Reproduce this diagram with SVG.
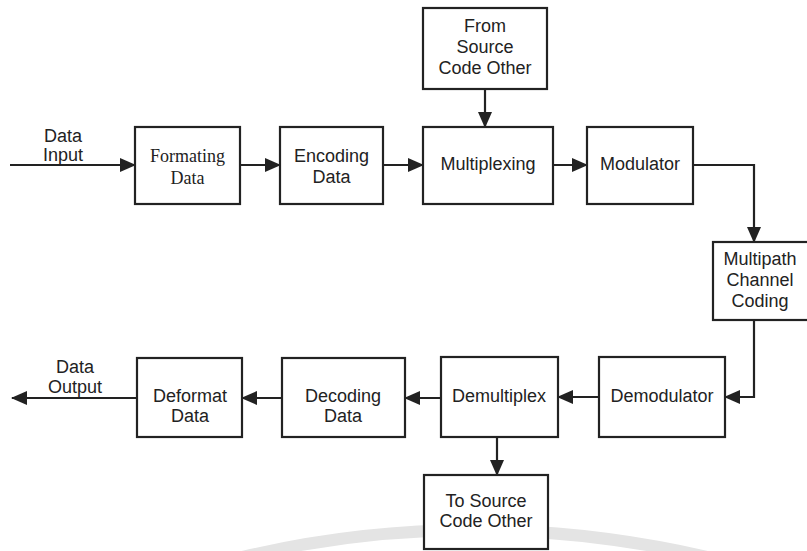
<svg xmlns="http://www.w3.org/2000/svg" width="807" height="551" viewBox="0 0 807 551">
<style>
.box{fill:#fff;stroke:#222;stroke-width:2.2}
.t{font-family:"Liberation Sans",Arial,sans-serif;font-size:18px;fill:#222;text-anchor:middle}
.s{font-family:"Liberation Serif","Times New Roman",serif;font-size:18px;fill:#222;text-anchor:middle}
.c{fill:none;stroke:#222;stroke-width:2.2;marker-end:url(#ah)}
</style>
<defs>
<marker id="ah" markerUnits="userSpaceOnUse" markerWidth="16" markerHeight="14" refX="15" refY="7" orient="auto">
<path d="M0,0 L16,7 L0,14 z" fill="#222"/>
</marker>
</defs>
<rect width="807" height="551" fill="#fff"/>
<path d="M230,560 Q470,500 720,560" fill="none" stroke="#e4e4e4" stroke-width="12"/>
<g id="connectors">
<path class="c" d="M10,165 L135,165"/>
<path class="c" d="M240,165 L280,165"/>
<path class="c" d="M383,165 L423,165"/>
<path class="c" d="M485,89 L485,127"/>
<path class="c" d="M553,165 L587,165"/>
<path class="c" d="M693,165 L754,165 L754,242"/>
<path class="c" d="M754,320 L754,397 L725,397"/>
<path class="c" d="M599,397 L558,397"/>
<path class="c" d="M441,398 L405,398"/>
<path class="c" d="M282,398 L242,398"/>
<path class="c" d="M137,398 L12,398"/>
<path class="c" d="M497,437 L497,475"/>
</g>
<g id="label-data-input"><text class="t" x="63" y="142">Data</text><text class="t" x="63" y="161">Input</text></g>
<g id="label-data-output"><text class="t" x="75" y="373">Data</text><text class="t" x="75" y="393">Output</text></g>
<g id="formating"><rect class="box" x="135" y="127" width="105" height="77"/><text class="s" x="187.5" y="162">Formating</text><text class="s" x="187.5" y="184">Data</text></g>
<g id="encoding"><rect class="box" x="280" y="127" width="103" height="77"/><text class="t" x="331.5" y="162">Encoding</text><text class="t" x="331.5" y="183">Data</text></g>
<g id="source-in"><rect class="box" x="423" y="8" width="124" height="81"/><text class="t" x="485" y="32">From</text><text class="t" x="485" y="53">Source</text><text class="t" x="485" y="74">Code Other</text></g>
<g id="multiplexing"><rect class="box" x="423" y="127" width="130" height="77"/><text class="t" x="488" y="170">Multiplexing</text></g>
<g id="modulator"><rect class="box" x="587" y="127" width="106" height="77"/><text class="t" x="640" y="170">Modulator</text></g>
<g id="multipath"><rect class="box" x="713" y="242" width="100" height="78"/><text class="t" x="760" y="265">Multipath</text><text class="t" x="760" y="286">Channel</text><text class="t" x="760" y="307">Coding</text></g>
<g id="demodulator"><rect class="box" x="599" y="357" width="126" height="80"/><text class="t" x="662" y="402">Demodulator</text></g>
<g id="demultiplex"><rect class="box" x="441" y="357" width="117" height="80"/><text class="t" x="499" y="402">Demultiplex</text></g>
<g id="decoding"><rect class="box" x="282" y="358" width="123" height="79"/><text class="t" x="343" y="402">Decoding</text><text class="t" x="343" y="422">Data</text></g>
<g id="deformat"><rect class="box" x="137" y="358" width="105" height="79"/><text class="t" x="190" y="402">Deformat</text><text class="t" x="190" y="422">Data</text></g>
<g id="source-out"><rect class="box" x="424" y="475" width="124" height="74"/><text class="t" x="486" y="507">To Source</text><text class="t" x="486" y="527">Code Other</text></g>
</svg>
